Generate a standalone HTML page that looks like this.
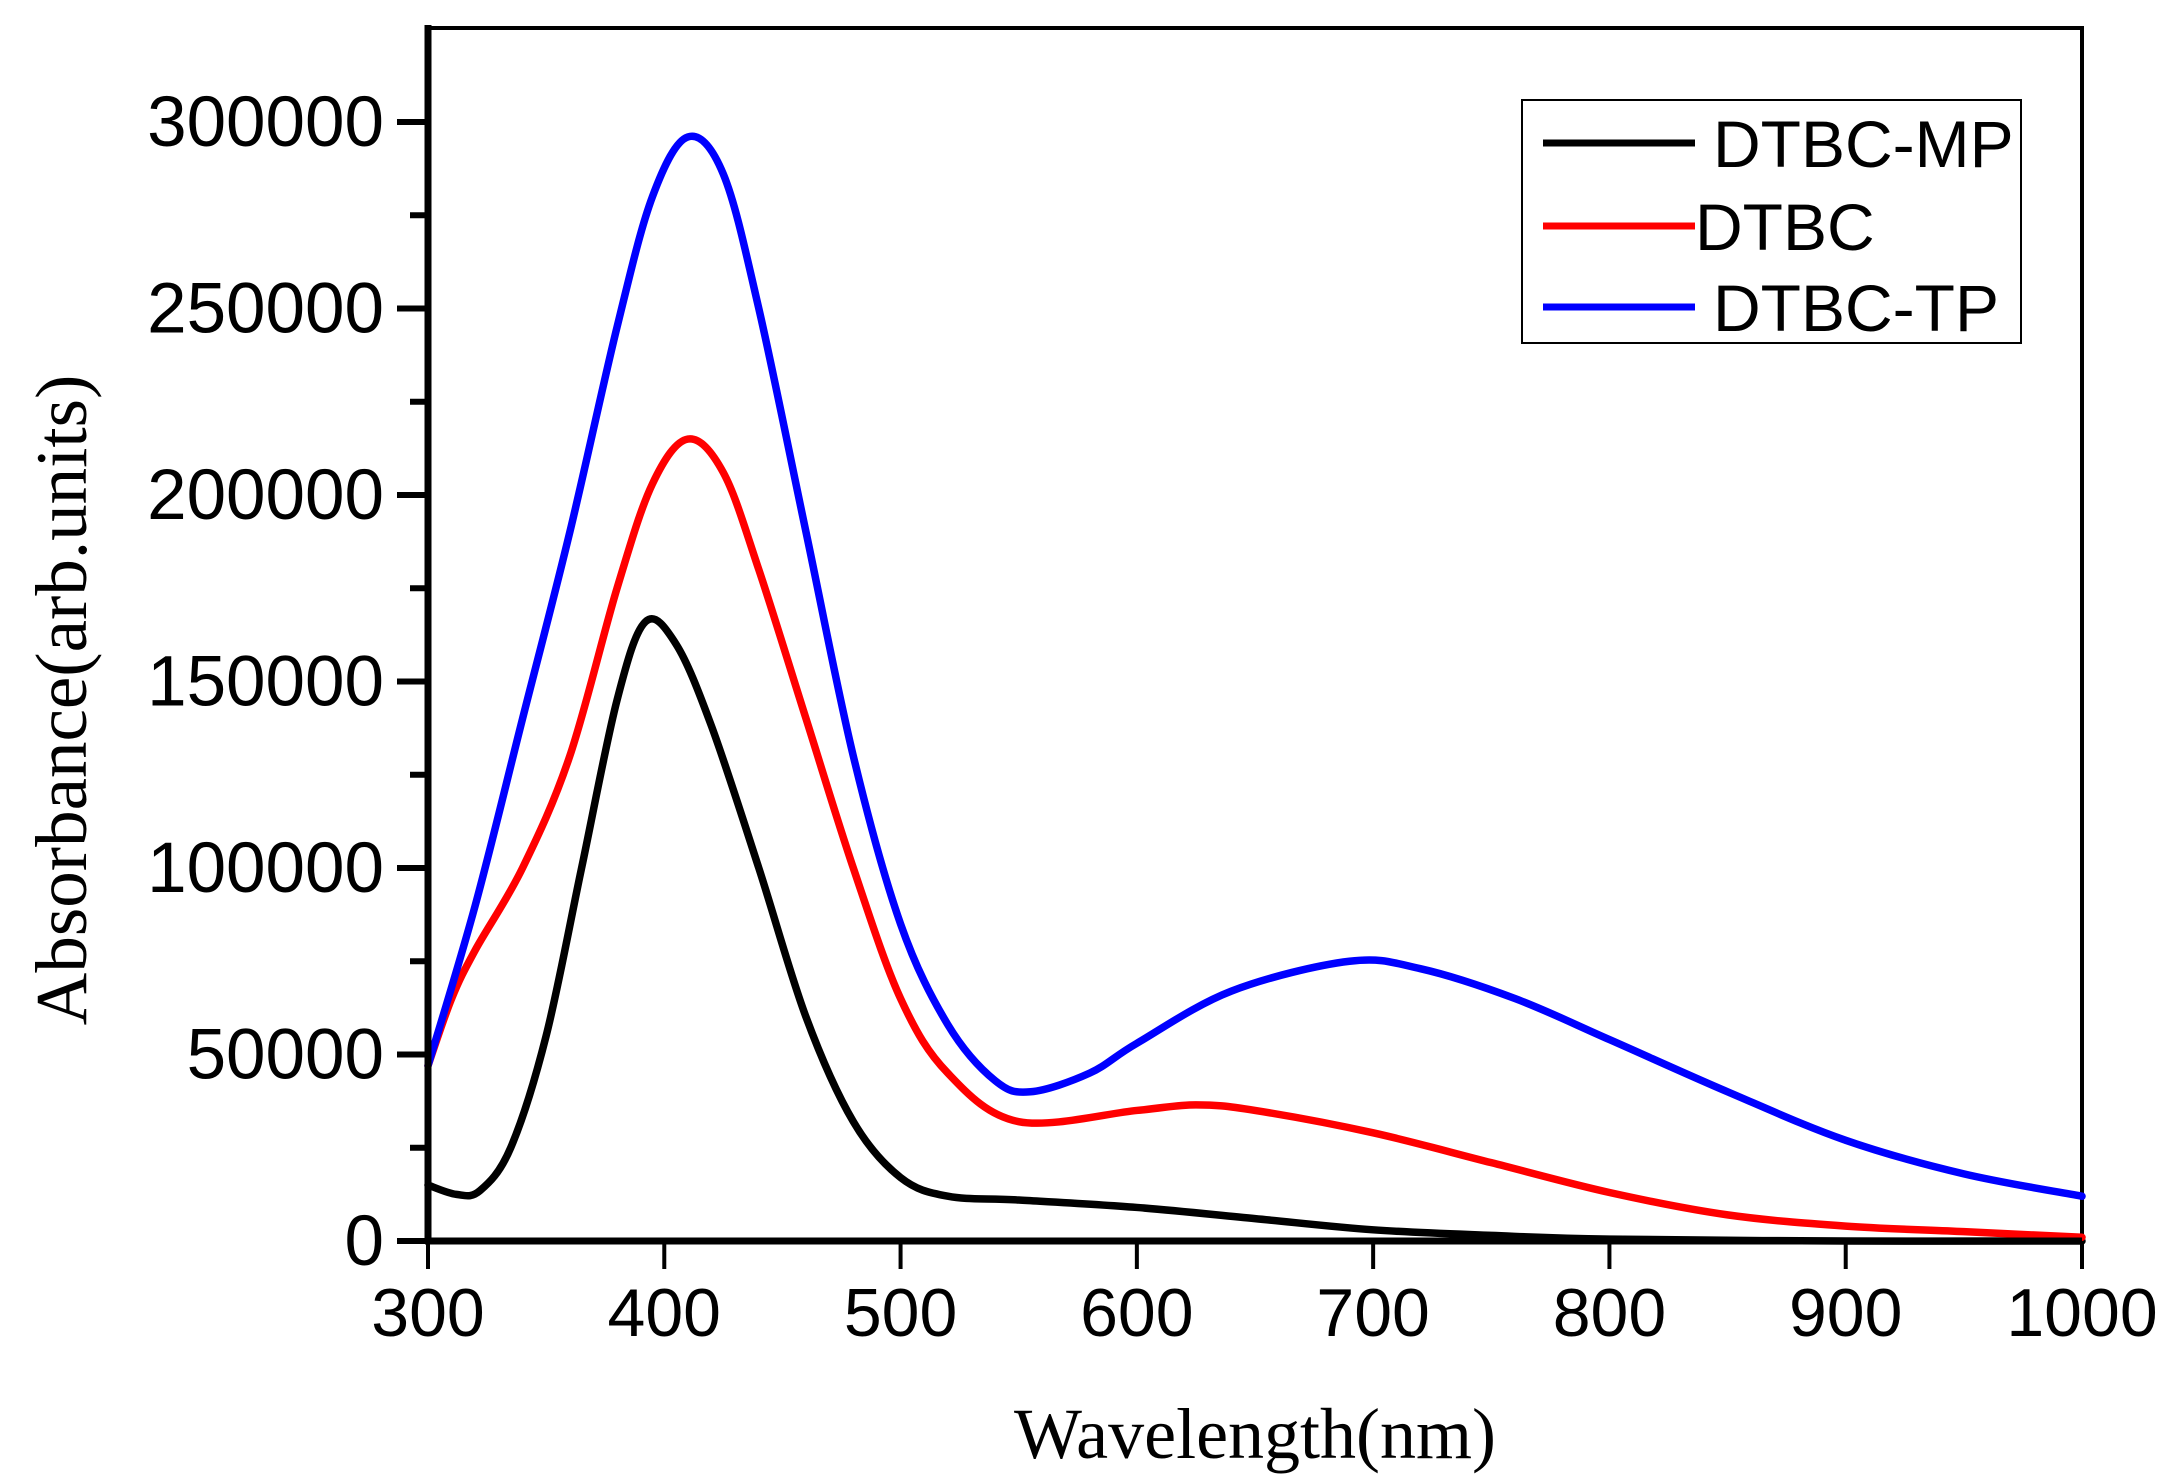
<!DOCTYPE html>
<html><head><meta charset="utf-8"><style>
html,body{margin:0;padding:0;background:#fff;}
svg{display:block;}
</style></head><body>
<svg id="chart" width="2170" height="1478" xmlns="http://www.w3.org/2000/svg">
<g id="plot"></g>
</svg>
<script>
const mpX = [300,312,322,335,350,365,380,392,405,420,440,460,480,500,520,550,600,650,700,750,800,900,1000];
const mpY = [15000,12500,13500,25000,55000,100000,145000,166000,160000,138000,100000,60000,32000,17000,12000,11000,9000,6000,3000,1500,500,0,0];
const dtbcX = [300,310,320,340,360,380,395,410,425,440,460,480,500,520,550,600,625,650,700,750,800,850,900,950,1000];
const dtbcY = [47000,65000,78000,100000,130000,175000,203000,215000,206000,180000,140000,100000,65000,45000,32000,35000,36500,35000,29000,21000,13000,7000,4000,2500,1000];
const tpX = [300,320,340,360,380,395,410,425,440,460,480,500,520,540,555,580,600,640,690,720,760,800,850,900,950,1000];
const tpY = [47000,90000,140000,190000,245000,280000,296000,286000,250000,190000,130000,85000,58000,43000,40000,45000,53000,67000,75000,73000,65000,54000,40000,27000,18000,12000];
const xTicks = [300,400,500,600,700,800,900,1000];
const yTicks = [0,50000,100000,150000,200000,250000,300000];
const seriesNames = ["DTBC-MP","DTBC","DTBC-TP"];
const seriesColors = ["#000000","#ff0000","#0000ff"];

const L=428,R=2082,T=28,B=1241;
const xMin=300,xMax=1000,yMin=0,y300=300000,yPix300=122;
function X(v){return L+(v-xMin)/(xMax-xMin)*(R-L);}
function Y(v){return B-(v-yMin)/(y300-yMin)*(B-yPix300);}
const NS="http://www.w3.org/2000/svg";
const g=document.getElementById('plot');
function el(tag,attrs,parent){const e=document.createElementNS(NS,tag);for(const k in attrs)e.setAttribute(k,attrs[k]);(parent||g).appendChild(e);return e;}

function smooth(px,py){
  const p=px.map((x,i)=>[X(x),Y(py[i])]);
  let d=`M${p[0][0]},${p[0][1]}`;
  for(let i=0;i<p.length-1;i++){
    const p0=p[i-1]||p[i],p1=p[i],p2=p[i+1],p3=p[i+2]||p2;
    const c1=[p1[0]+(p2[0]-p0[0])/6,p1[1]+(p2[1]-p0[1])/6];
    const c2=[p2[0]-(p3[0]-p1[0])/6,p2[1]-(p3[1]-p1[1])/6];
    d+=` C${c1[0]},${c1[1]} ${c2[0]},${c2[1]} ${p2[0]},${p2[1]}`;
  }
  return d;
}

const fr=el('rect',{x:L,y:T,width:R-L,height:B-T,fill:'none',stroke:'#000','stroke-width':4});



const data=[[mpX,mpY],[dtbcX,dtbcY],[tpX,tpY]];
const sNames=['series-dtbc-mp','series-dtbc','series-dtbc-tp'];
data.forEach((s,i)=>{
  const p=el('path',{d:smooth(s[0],s[1]),fill:'none',stroke:seriesColors[i],'stroke-width':7.5,'stroke-linejoin':'round','stroke-linecap':'round'});
  
  
});

const ya=el('line',{x1:L,y1:T-3,x2:L,y2:B+3,stroke:'#000','stroke-width':7});


const xa=el('line',{x1:L-3,y1:B,x2:R,y2:B,stroke:'#000','stroke-width':7});



yTicks.forEach(v=>{
  el('line',{x1:L-31,y1:Y(v),x2:L,y2:Y(v),stroke:'#000','stroke-width':6});
  const t=el('text',{x:L-44,y:Y(v)+24,'text-anchor':'end','font-family':'Liberation Sans, sans-serif','font-size':71,fill:'#000'});
  t.textContent=v;
  
  
});
for(let v=25000;v<325000;v+=50000){
  el('line',{x1:L-18,y1:Y(v),x2:L,y2:Y(v),stroke:'#000','stroke-width':6});
}
xTicks.forEach(v=>{
  el('line',{x1:X(v),y1:B,x2:X(v),y2:B+28,stroke:'#000','stroke-width':4});
  const t=el('text',{x:X(v),y:B+95,'text-anchor':'middle','font-family':'Liberation Sans, sans-serif','font-size':68,fill:'#000'});
  t.textContent=v;
  
  
});

const xt=el('text',{x:1255,y:1458,'text-anchor':'middle','font-family':'Liberation Serif, serif','font-size':72,fill:'#000'});
xt.textContent='Wavelength(nm)';


const yt=el('text',{x:0,y:0,transform:'translate(86,700) rotate(-90)','text-anchor':'middle','font-family':'Liberation Serif, serif','font-size':73,fill:'#000'});
yt.textContent='Absorbance(arb.units)';



const lg=el('rect',{x:1522,y:100,width:499,height:243,fill:'#fff',stroke:'#000','stroke-width':2});


const ly=[143,226,307];
const lx=[1713,1695,1713];
seriesNames.forEach((n,i)=>{
  const ln=el('line',{x1:1543,y1:ly[i],x2:1695,y2:ly[i],stroke:seriesColors[i],'stroke-width':7});
  
  
  const t=el('text',{x:lx[i],y:ly[i]+24,'font-family':'Liberation Sans, sans-serif','font-size':66,fill:'#000'});
  t.textContent=n;
  
  
});
</script>
</body></html>
